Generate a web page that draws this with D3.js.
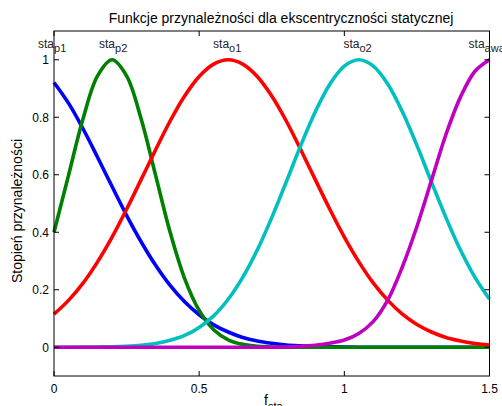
<!DOCTYPE html>
<html><head><meta charset="utf-8">
<script src="https://cdn.jsdelivr.net/npm/d3@7"></script>
<style>body{margin:0;background:#fff}svg{display:block;font-family:"Liberation Sans",Arial,sans-serif}</style>
</head><body>
<script>
// sample points along f_sta
const xs = [0,0.05,0.1,0.15,0.2,0.25,0.3,0.35,0.4,0.45,0.5,0.55,0.6,0.65,0.7,0.75,0.8,0.85,0.9,0.95,1.0,1.05,1.1,1.15,1.2,1.25,1.3,1.35,1.4,1.45,1.5];
const staP1 = [0.921,0.849,0.760,0.661,0.559,0.459,0.367,0.285,0.215,0.158,0.113,0.078,0.053,0.034,0.022,0.014,0.008,0.005,0.003,0.0015,0.0008,0,0,0,0,0,0,0,0,0,0];
const staP2 = [0.400,0.598,0.795,0.944,1.0,0.944,0.795,0.598,0.400,0.239,0.128,0.061,0.026,0.010,0.003,0.001,0,0,0,0,0,0,0,0,0,0,0,0,0,0,0];
const staO1 = [0.115,0.163,0.223,0.297,0.383,0.480,0.583,0.687,0.787,0.874,0.942,0.985,1.0,0.985,0.942,0.874,0.787,0.687,0.583,0.480,0.383,0.297,0.223,0.163,0.115,0.079,0.053,0.034,0.022,0.013,0.008];
const staO2 = [0,0,0.0003,0.001,0.0017,0.0035,0.007,0.013,0.024,0.041,0.069,0.109,0.167,0.243,0.338,0.451,0.575,0.702,0.819,0.915,0.978,1.0,0.978,0.915,0.819,0.702,0.575,0.451,0.338,0.243,0.167];
const staAw = [0,0,0,0,0,0,0,0,0,0,0,0,0,0,0,0,0.001,0.003,0.007,0.014,0.025,0.048,0.09,0.165,0.28,0.42,0.58,0.74,0.87,0.96,1.0];
const seriesNames = ["p1","p2","o1","o2","awaria"];
const seriesColors = ["#0000ff","#008000","#ff0000","#00bfbf","#bf00bf"];
const seriesData = [staP1, staP2, staO1, staO2, staAw];
const labelX = [-0.055,0.155,0.548,0.997,1.428];
const xTicks = [0,0.5,1,1.5];
const xTickLabels = ["0","0.5","1","1.5"];
const yTicks = [0,0.2,0.4,0.6,0.8,1];
const yTickLabels = ["0","0.2","0.4","0.6","0.8","1"];

const W=502,H=406;
const svg=d3.select("body").append("svg").attr("width",W).attr("height",H);
const x=d3.scaleLinear().domain([0,1.5]).range([54,489.5]);
const y=d3.scaleLinear().domain([-0.1,1.1]).range([376,31]);

// lines
const line=d3.line().x((d,i)=>x(xs[i])).y(d=>y(d)).curve(d3.curveCatmullRom);
seriesData.forEach((s,k)=>{
  svg.append("path").attr("d",line(s)).attr("fill","none")
    .attr("stroke",seriesColors[k]).attr("stroke-width",3.6).attr("stroke-linejoin","round");
});

// box and ticks
const g=svg.append("g").attr("stroke","#000").attr("fill","none");
g.append("rect").attr("x",x(0)).attr("y",y(1.1)).attr("width",x(1.5)-x(0)).attr("height",y(-0.1)-y(1.1)).attr("stroke-width",1);
const tl=5;
xTicks.forEach(t=>{
  g.append("line").attr("x1",x(t)).attr("x2",x(t)).attr("y1",y(-0.1)).attr("y2",y(-0.1)-tl);
  g.append("line").attr("x1",x(t)).attr("x2",x(t)).attr("y1",y(1.1)).attr("y2",y(1.1)+tl);
});
yTicks.forEach(t=>{
  g.append("line").attr("x1",x(0)).attr("x2",x(0)+tl).attr("y1",y(t)).attr("y2",y(t));
  g.append("line").attr("x1",x(1.5)).attr("x2",x(1.5)-tl).attr("y1",y(t)).attr("y2",y(t));
});

// tick labels
xTicks.forEach((t,i)=>{
  svg.append("text").attr("x",x(t)).attr("y",393).attr("text-anchor","middle")
    .attr("font-size",12).text(xTickLabels[i]);
});
yTicks.forEach((t,i)=>{
  svg.append("text").attr("x",49).attr("y",y(t)+4.3).attr("text-anchor","end")
    .attr("font-size",12).text(yTickLabels[i]);
});

// series labels
seriesNames.forEach((n,k)=>{
  const t=svg.append("text").attr("x",x(labelX[k])).attr("y",y(1.04)).attr("font-size",12).attr("fill","#222");
  t.append("tspan").text("sta");
  t.append("tspan").attr("dy",4).attr("font-size",11).text(n);
});

// title
svg.append("text").attr("x",281).attr("y",23).attr("text-anchor","middle").attr("font-size",14)
  .text("Funkcje przynależności dla ekscentryczności statycznej");
// y label
svg.append("text").attr("transform","translate(22,211) rotate(-90)").attr("text-anchor","middle")
  .attr("font-size",14).text("Stopień przynależności");
// x label
const xl=svg.append("text").attr("x",264).attr("y",405).attr("font-size",14);
xl.append("tspan").text("f");
xl.append("tspan").attr("dy",5).attr("font-size",11).text("sta");
</script>
</body></html>
